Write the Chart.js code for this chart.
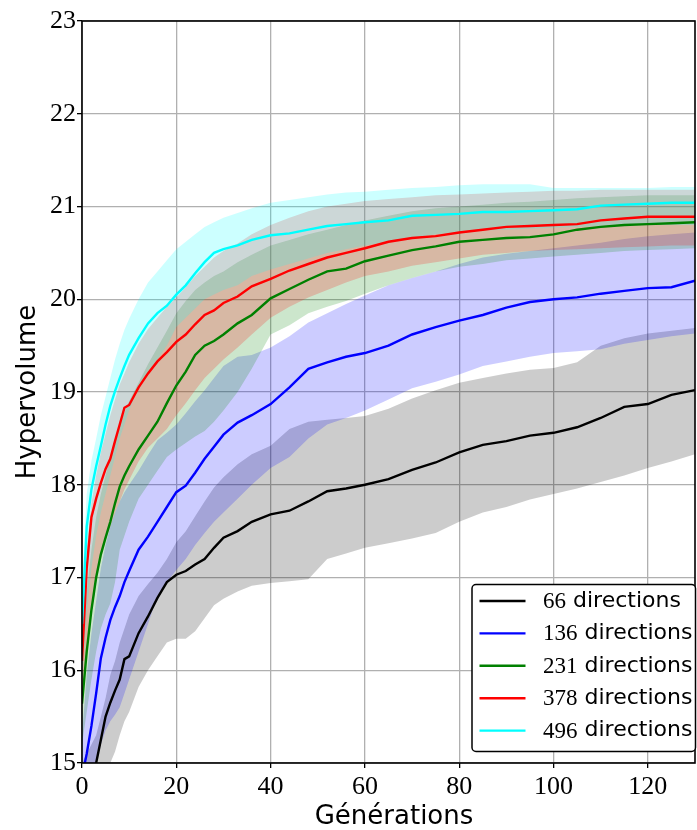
<!DOCTYPE html>
<html>
<head>
<meta charset="utf-8">
<script src="https://cdn.jsdelivr.net/npm/chart.js@4.4.1/dist/chart.umd.min.js"></script>
<style>
  body { margin: 0; background: #fff; }
  #wrap { width: 697px; height: 830px; }
</style>
</head>
<body>
<div id="wrap"><canvas id="hv" width="697" height="830"></canvas></div>
<script>
// generations where the curves were read
const gens = [0,1,2,3,4,5,6,7,8,9,10,12,14,16,18,20,22,24,26,28,30,33,36,40,44,48,52,56,60,65,70,75,80,85,90,95,100,105,110,115,120,125,130];

// 66 directions
const mean66 = [14.6,14.75,14.88,15.0,15.25,15.5,15.65,15.78,15.9,16.12,16.15,16.4,16.58,16.78,16.95,17.03,17.07,17.14,17.2,17.32,17.43,17.5,17.6,17.68,17.72,17.82,17.93,17.96,18.0,18.06,18.16,18.24,18.35,18.43,18.47,18.53,18.56,18.62,18.72,18.84,18.87,18.97,19.02];
const high66 = [15.0,15.1,15.2,15.3,15.5,15.7,15.95,16.1,16.3,16.45,16.6,16.8,16.93,17.05,17.2,17.38,17.5,17.66,17.82,17.97,18.08,18.22,18.33,18.42,18.6,18.68,18.7,18.72,18.74,18.82,18.93,19.02,19.1,19.15,19.2,19.24,19.26,19.32,19.5,19.58,19.63,19.66,19.69];
const low66 = [14.3,14.4,14.5,14.6,14.75,14.88,15.0,15.12,15.3,15.45,15.55,15.82,16.0,16.15,16.3,16.34,16.34,16.42,16.56,16.7,16.77,16.85,16.91,16.94,16.96,16.98,17.2,17.26,17.32,17.37,17.42,17.48,17.6,17.7,17.76,17.84,17.9,17.96,18.03,18.1,18.18,18.25,18.33];

// 136 directions
const mean136 = [14.85,15.1,15.4,15.75,16.13,16.35,16.54,16.68,16.8,16.95,17.07,17.3,17.44,17.6,17.76,17.92,17.99,18.13,18.28,18.41,18.54,18.67,18.75,18.87,19.05,19.25,19.32,19.38,19.42,19.5,19.62,19.7,19.77,19.83,19.91,19.97,20.0,20.02,20.06,20.09,20.12,20.13,20.2];
const high136 = [15.3,15.95,16.4,16.75,17.1,17.35,17.55,17.7,17.82,17.92,18.0,18.15,18.32,18.48,18.56,18.65,18.77,18.9,19.02,19.15,19.28,19.38,19.4,19.48,19.6,19.75,19.85,19.95,20.04,20.15,20.23,20.3,20.38,20.45,20.49,20.52,20.55,20.58,20.61,20.65,20.68,20.7,20.72];
const low136 = [14.4,14.6,14.8,15.0,15.2,15.35,15.45,15.52,15.6,15.75,15.9,16.2,16.5,16.8,16.95,17.08,17.2,17.35,17.48,17.6,17.7,17.85,18.0,18.18,18.3,18.5,18.65,18.72,18.8,18.92,19.04,19.11,19.19,19.28,19.33,19.38,19.42,19.44,19.46,19.52,19.56,19.6,19.63];

// 231 directions
const mean231 = [15.64,16.2,16.65,17.0,17.25,17.43,17.6,17.8,17.98,18.1,18.2,18.38,18.53,18.68,18.88,19.07,19.22,19.4,19.5,19.55,19.62,19.74,19.83,20.01,20.11,20.21,20.3,20.33,20.41,20.47,20.53,20.57,20.62,20.64,20.66,20.67,20.7,20.75,20.78,20.8,20.81,20.82,20.83];
const high231 = [16.2,16.85,17.3,17.65,17.9,18.1,18.3,18.5,18.65,18.78,18.9,19.1,19.3,19.48,19.66,19.85,19.98,20.1,20.18,20.25,20.3,20.4,20.48,20.58,20.64,20.7,20.75,20.8,20.85,20.9,20.95,20.98,21.0,21.02,21.04,21.05,21.07,21.09,21.1,21.11,21.12,21.12,21.12];
const low231 = [15.2,15.55,15.9,16.2,16.45,16.6,16.72,16.95,17.3,17.45,17.6,17.85,18.0,18.15,18.3,18.38,18.45,18.52,18.58,18.68,18.8,19.0,19.25,19.62,19.72,19.85,19.92,19.98,20.06,20.15,20.23,20.3,20.35,20.38,20.42,20.44,20.46,20.48,20.5,20.52,20.53,20.54,20.55];

// 378 directions
const mean378 = [16.1,17.1,17.65,17.85,18.02,18.17,18.28,18.47,18.65,18.83,18.86,19.05,19.2,19.33,19.43,19.54,19.62,19.73,19.83,19.88,19.96,20.03,20.14,20.22,20.31,20.38,20.45,20.5,20.55,20.62,20.66,20.68,20.72,20.75,20.78,20.79,20.8,20.81,20.85,20.87,20.89,20.89,20.89];
const high378 = [16.6,17.3,17.8,18.1,18.35,18.55,18.75,18.92,19.08,19.2,19.32,19.52,19.68,19.8,19.92,20.02,20.13,20.25,20.35,20.45,20.52,20.6,20.7,20.8,20.88,20.95,21.0,21.03,21.06,21.08,21.1,21.12,21.13,21.14,21.15,21.16,21.17,21.17,21.18,21.18,21.18,21.18,21.18];
const low378 = [15.6,16.2,16.6,16.95,17.2,17.4,17.55,17.7,17.82,17.95,18.05,18.25,18.4,18.5,18.6,18.75,18.88,19.02,19.15,19.25,19.35,19.48,19.62,19.8,19.92,20.02,20.1,20.18,20.25,20.3,20.36,20.4,20.44,20.48,20.5,20.52,20.53,20.54,20.55,20.56,20.57,20.58,20.58];

// 496 directions
const mean496 = [16.5,17.55,17.95,18.2,18.42,18.65,18.85,19.01,19.15,19.28,19.4,19.58,19.74,19.85,19.93,20.05,20.15,20.28,20.4,20.5,20.54,20.58,20.64,20.69,20.71,20.75,20.79,20.81,20.83,20.85,20.9,20.91,20.92,20.94,20.94,20.95,20.96,20.97,21.01,21.02,21.03,21.04,21.04];
const high496 = [16.9,17.9,18.26,18.5,18.75,18.95,19.15,19.35,19.52,19.67,19.79,20.0,20.18,20.3,20.42,20.54,20.62,20.7,20.78,20.83,20.88,20.93,20.98,21.04,21.07,21.1,21.13,21.15,21.16,21.18,21.2,21.21,21.23,21.24,21.24,21.24,21.2,21.2,21.2,21.2,21.2,21.21,21.21];
const low496 = [15.9,16.6,17.1,17.45,17.7,17.9,18.1,18.3,18.5,18.65,18.8,19.05,19.2,19.35,19.5,19.7,19.8,19.9,20.0,20.05,20.1,20.15,20.25,20.32,20.38,20.44,20.5,20.54,20.58,20.62,20.66,20.7,20.72,20.74,20.75,20.76,20.77,20.78,20.79,20.8,20.8,20.8,20.8];

const labels = ["66", "136", "231", "378", "496"];
const xTicks = [0, 20, 40, 60, 80, 100, 120];
const yTicks = [15, 16, 17, 18, 19, 20, 21, 22, 23];

const colors = ["#000000", "#0000ff", "#008000", "#ff0000", "#00ffff"];
const shades = ["rgba(0,0,0,0.2)", "rgba(0,0,255,0.2)", "rgba(0,128,0,0.2)", "rgba(255,0,0,0.2)", "rgba(0,255,255,0.2)"];

const means = [mean66, mean136, mean231, mean378, mean496];
const highs = [high66, high136, high231, high378, high496];
const lows = [low66, low136, low231, low378, low496];

function points(ys) {
  return gens.map((g, i) => ({ x: g, y: ys[i] }));
}

// mean lines first (first one ends up on top), then the bands, grey band last so it is filled first
let datasets = [];
for (let i = means.length - 1; i >= 0; i--) {
  datasets.push({
    data: points(means[i]),
    borderColor: colors[i],
    borderWidth: 2.4,
    pointRadius: 0,
    fill: false,
    tension: 0,
    clip: 0,
  });
}
for (let i = means.length - 1; i >= 0; i--) {
  datasets.push({
    data: points(highs[i]),
    borderColor: "rgba(0,0,0,0)",
    borderWidth: 0,
    pointRadius: 0,
    backgroundColor: shades[i],
    fill: "+1",
    tension: 0,
  });
  datasets.push({
    data: points(lows[i]),
    borderColor: "rgba(0,0,0,0)",
    borderWidth: 0,
    pointRadius: 0,
    fill: false,
    tension: 0,
  });
}

// frame, axis titles and legend
const decor = {
  id: "decor",
  afterDraw(chart) {
    const ctx = chart.ctx;
    const a = chart.chartArea;
    ctx.save();
    ctx.strokeStyle = "#000";
    ctx.lineWidth = 1.6;
    ctx.strokeRect(a.left, a.top, a.right - a.left, a.bottom - a.top);

    ctx.fillStyle = "#000";
    ctx.font = "26px 'DejaVu Sans'";
    ctx.textAlign = "center";
    ctx.textBaseline = "alphabetic";
    ctx.fillText("Générations", 394, 824);
    ctx.save();
    ctx.translate(35, 392);
    ctx.rotate(-Math.PI / 2);
    ctx.fillText("Hypervolume", 0, 0);
    ctx.restore();

    // legend box
    const bx = 472, by = 584.5, bw = 223.5, bh = 167;
    ctx.beginPath();
    ctx.roundRect(bx, by, bw, bh, 4);
    ctx.fillStyle = "#fff";
    ctx.fill();
    ctx.lineWidth = 1.5;
    ctx.strokeStyle = "#000";
    ctx.stroke();

    ctx.textAlign = "left";
    ctx.textBaseline = "middle";
    for (let i = 0; i < labels.length; i++) {
      const y = 601 + i * 32.4;
      ctx.beginPath();
      ctx.moveTo(479.5, y);
      ctx.lineTo(525.5, y);
      ctx.strokeStyle = colors[i];
      ctx.lineWidth = 2.4;
      ctx.stroke();
      ctx.fillStyle = "#000";
      ctx.font = "23px 'Liberation Serif'";
      ctx.fillText(labels[i], 543, y + 1);
      const w = ctx.measureText(labels[i]).width;
      ctx.font = "22px 'DejaVu Sans'";
      ctx.fillText("directions", 543 + w + 7, y);
    }
    ctx.restore();
  },
};

const ctx = document.getElementById("hv");
new Chart(ctx, {
  type: "line",
  data: { datasets },
  plugins: [decor],
  options: {
    responsive: false,
    animation: false,
    devicePixelRatio: 1,
    layout: { padding: { top: 21, right: 2, left: 0, bottom: 0 } },
    plugins: {
      legend: { display: false },
      tooltip: { enabled: false },
      filler: { drawTime: "beforeDatasetsDraw", propagate: false },
    },
    scales: {
      x: {
        type: "linear",
        min: 0,
        max: 130,
        afterFit: (s) => { s.height = 67; },
        afterBuildTicks: (s) => { s.ticks = xTicks.map((v) => ({ value: v })); },
        grid: { color: "#b0b0b0", lineWidth: 1.3, tickColor: "#000", tickLength: 5, tickWidth: 1.3 },
        border: { display: false },
        ticks: { color: "#000", font: { family: "'Liberation Serif'", size: 26 }, padding: 4, maxRotation: 0 },
      },
      y: {
        type: "linear",
        min: 15,
        max: 23,
        afterFit: (s) => { s.width = 82; },
        afterBuildTicks: (s) => { s.ticks = yTicks.map((v) => ({ value: v })); },
        grid: { color: "#b0b0b0", lineWidth: 1.3, tickColor: "#000", tickLength: 5, tickWidth: 1.3 },
        border: { display: false },
        ticks: { color: "#000", font: { family: "'Liberation Serif'", size: 26 }, padding: 1 },
      },
    },
  },
});
</script>
</body>
</html>
